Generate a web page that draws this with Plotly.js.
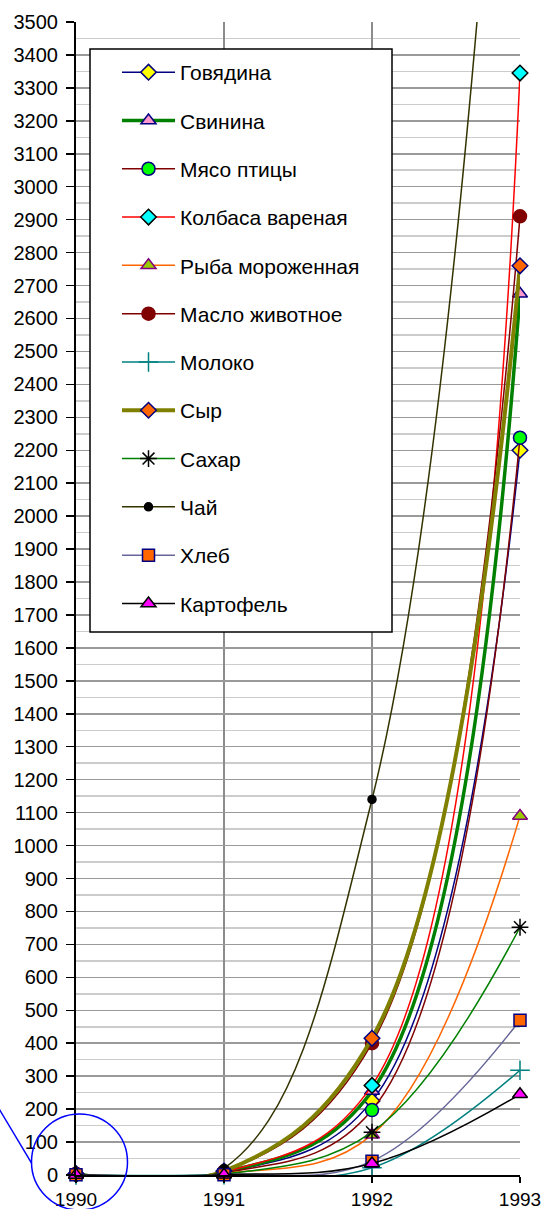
<!DOCTYPE html>
<html>
<head>
<meta charset="utf-8">
<script src="https://cdn.plot.ly/plotly-3.0.1.min.js"></script>
<style>html,body{margin:0;padding:0;background:#fff;}#chart{width:545px;height:1209px;}</style>
</head>
<body>
<div id="chart"></div>
<script>
var years = [1990, 1991, 1992, 1993];
var names = ['Говядина', 'Свинина', 'Мясо птицы', 'Колбаса вареная', 'Рыба мороженная',
  'Масло животное', 'Молоко', 'Сыр', 'Сахар', 'Чай', 'Хлеб', 'Картофель'];
var beef    = [2, 7, 225, 2200];
var pork    = [2, 8, 255, 2675];
var poultry = [2.5, 6, 197, 2238];
var sausage = [2.5, 9, 272, 3345];
var fish    = [1, 4, 122, 1090];
var butter  = [3.5, 10, 400, 2910];
var milk    = [0.3, 1, 22, 318];
var cheese  = [3.5, 12, 415, 2760];
var sugar   = [1, 2, 130, 752];
var tea     = [4, 20, 1140, 5300];
var bread   = [0.4, 1, 42, 470];
var potato  = [0.3, 1, 35, 245];
var yTicks = [];
for (var v = 0; v <= 3500; v += 100) yTicks.push(v);

var series = [beef, pork, poultry, sausage, fish, butter, milk, cheese, sugar, tea, bread, potato];
var styles = [
  {lc:'#000080', lw:1.5, sym:'diamond', mc:'#FFFF00', ml:'#000080', ms:12},
  {lc:'#008000', lw:3.5, sym:'triangle-up', mc:'#FF99CC', ml:'#000080', ms:13},
  {lc:'#800000', lw:1.5, sym:'circle', mc:'#00FF00', ml:'#000080', ms:13},
  {lc:'#FF0000', lw:1.5, sym:'diamond', mc:'#00FFFF', ml:'#000000', ms:12},
  {lc:'#FF6600', lw:1.5, sym:'triangle-up', mc:'#99CC00', ml:'#800080', ms:13},
  {lc:'#800000', lw:1.5, sym:'circle', mc:'#800000', ml:'#800000', ms:13},
  {lc:'#008080', lw:1.5, sym:'cross-thin', mc:'#008080', ml:'#008080', ms:14},
  {lc:'#808000', lw:4, sym:'diamond', mc:'#FF6600', ml:'#000080', ms:12},
  {lc:'#008000', lw:1.5, sym:'asterisk', mc:'#000000', ml:'#000000', ms:14},
  {lc:'#333300', lw:1.5, sym:'circle', mc:'#000000', ml:'#000000', ms:8},
  {lc:'#666699', lw:1.5, sym:'square', mc:'#FF6600', ml:'#000080', ms:12},
  {lc:'#000000', lw:1.5, sym:'triangle-up', mc:'#FF00FF', ml:'#000000', ms:13}
];

var traces = series.map(function (s, i) {
  var st = styles[i];
  return {
    x: years, y: s, name: names[i], type: 'scatter', mode: 'lines+markers',
    legendgroup: 'g' + i,
    line: {color: st.lc, width: st.lw, shape: 'spline', smoothing: 1.1},
    marker: {symbol: st.sym, color: st.mc, size: st.ms, line: {color: st.ml, width: 1.5}},
    cliponaxis: false
  };
});

var L = 76, R = 25, T = 22, B = 34;
var W = 545 - L - R, H = 1209 - T - B;
function px(x) { return (x - L) / W; }
function py(y) { return (1209 - B - y) / H; }

var layout = {
  width: 545, height: 1209,
  margin: {l: L, r: R, t: T, b: B},
  paper_bgcolor: '#ffffff', plot_bgcolor: '#ffffff',
  font: {family: 'Liberation Sans, Arial, sans-serif', size: 20, color: '#000'},
  showlegend: true,
  legend: {
    x: px(117), y: py(52), xanchor: 'left', yanchor: 'top',
    bgcolor: 'rgba(0,0,0,0)', borderwidth: 0,
    font: {family: 'Liberation Sans, Arial, sans-serif', size: 21, color: '#000'},
    tracegroupgap: 18, itemwidth: 53
  },
  xaxis: {
    type: 'linear', range: [1990, 1993], tickvals: years, ticktext: years.map(String),
    showgrid: true, gridcolor: '#8c8c8c', gridwidth: 1.5,
    showline: true, linecolor: '#000', linewidth: 2,
    ticks: 'outside', ticklen: 6, tickcolor: '#000', tickwidth: 1.5,
    ticklabelstandoff: 0, zeroline: false, fixedrange: true,
    tickfont: {size: 19}
  },
  yaxis: {
    range: [0, 3500], tickvals: yTicks, ticktext: yTicks.map(String),
    showgrid: true, gridcolor: '#9a9a9a', gridwidth: 1.5,
    minor: {dtick: 50, tick0: 0, showgrid: true, gridcolor: '#cccccc', gridwidth: 1.5, ticks: ''},
    showline: true, linecolor: '#000', linewidth: 2,
    ticks: 'outside', ticklen: 8, tickcolor: '#000', tickwidth: 1.5,
    ticklabelstandoff: 4, zeroline: false, fixedrange: true,
    tickfont: {size: 20}
  },
  shapes: [
    {type: 'rect', xref: 'paper', yref: 'paper', layer: 'above',
     x0: px(90), x1: px(392), y0: py(632), y1: py(49),
     fillcolor: '#ffffff', line: {color: '#000', width: 1.5}},
    {type: 'circle', xref: 'paper', yref: 'paper', layer: 'above',
     x0: px(31.5), x1: px(127.5), y0: py(1210), y1: py(1114),
     line: {color: '#0000FF', width: 1.5}},
    {type: 'line', xref: 'paper', yref: 'paper', layer: 'above',
     x0: px(-2), y0: py(1107), x1: px(31.7), y1: py(1163.3),
     line: {color: '#0000FF', width: 1.5}}
  ]
};

Plotly.newPlot('chart', traces, layout, {displayModeBar: false, staticPlot: true});
</script>
</body>
</html>
